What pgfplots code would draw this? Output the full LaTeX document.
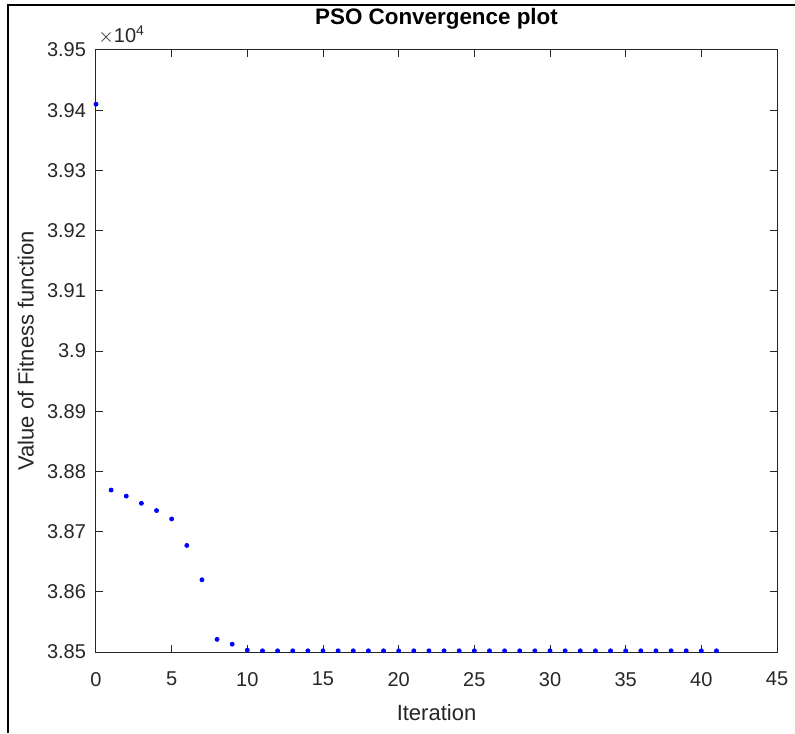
\documentclass[border=0pt]{standalone}
\usepackage{fontspec}
\setmainfont{Liberation Sans}
\usepackage{pgfplots}
\pgfplotsset{compat=1.18}

\definecolor{axgray}{gray}{0.15}

\begin{document}
\begin{tikzpicture}
\begin{axis}[
    at={(0,0)}, anchor=south west,
    scale only axis,
    width=340.5pt, height=301pt,
    xmin=0, xmax=45,
    ymin=38500, ymax=39500,
    xtick={0,5,...,45},
    ytick={38500,38600,...,39500},
    yticklabels={3.85,3.86,3.87,3.88,3.89,3.9,3.91,3.92,3.93,3.94,3.95},
    scaled y ticks=false,
    /pgf/number format/assume math mode=true,
    tick align=inside,
    major tick length=3.5pt,
    axis line style={axgray, line width=0.5pt},
    every tick/.style={axgray, line width=0.5pt},
    tick label style={font=\fontsize{10}{12}\selectfont, text=axgray},
    xticklabel style={yshift=-6.5pt},
    yticklabel style={xshift=-1.5pt},
    xlabel={Iteration},
    ylabel={Value of Fitness function},
    label style={font=\fontsize{11}{13}\selectfont, text=axgray},
    xlabel style={at={(axis description cs:0.5,-0.101)}, anchor=center},
    ylabel style={at={(axis description cs:-0.103,0.5)}, anchor=center},
    title={PSO Convergence plot},
    title style={at={(axis description cs:0.5,1.032)}, anchor=center,
        font=\fontsize{11.2}{13}\selectfont\bfseries},
    clip=false,
]
% best fitness per iteration
\addplot[only marks, mark=*, color=blue, mark size=1pt] coordinates {
(0,39410) (1,38769) (2,38759) (3,38747) (4,38735) (5,38721)
(6,38677) (7,38620) (8,38521) (9,38513) (10,38503)
(11,38502) (12,38502) (13,38502) (14,38502) (15,38502) (16,38502)
(17,38502) (18,38502) (19,38502) (20,38502) (21,38502) (22,38502)
(23,38502) (24,38502) (25,38502) (26,38502) (27,38502) (28,38502)
(29,38502) (30,38502) (31,38502) (32,38502) (33,38502) (34,38502)
(35,38502) (36,38502) (37,38502) (38,38502) (39,38502) (40,38502)
(41,38502)
};
\node[anchor=base west, inner sep=0pt, text=axgray, font=\fontsize{10}{12}\selectfont]
    at ([xshift=1pt, yshift=3.5pt]rel axis cs:0,1) {$\times$10\textsuperscript{4}};
\end{axis}
% outer frame of the screenshot
\draw[black, line width=0.6pt] (-44pt,-40.5pt) -- (-44pt,323.5pt) -- (349.5pt,323.5pt);
\pgfresetboundingbox
\path (-48pt,-40.5pt) rectangle (349.5pt,326pt);
\end{tikzpicture}
\end{document}
